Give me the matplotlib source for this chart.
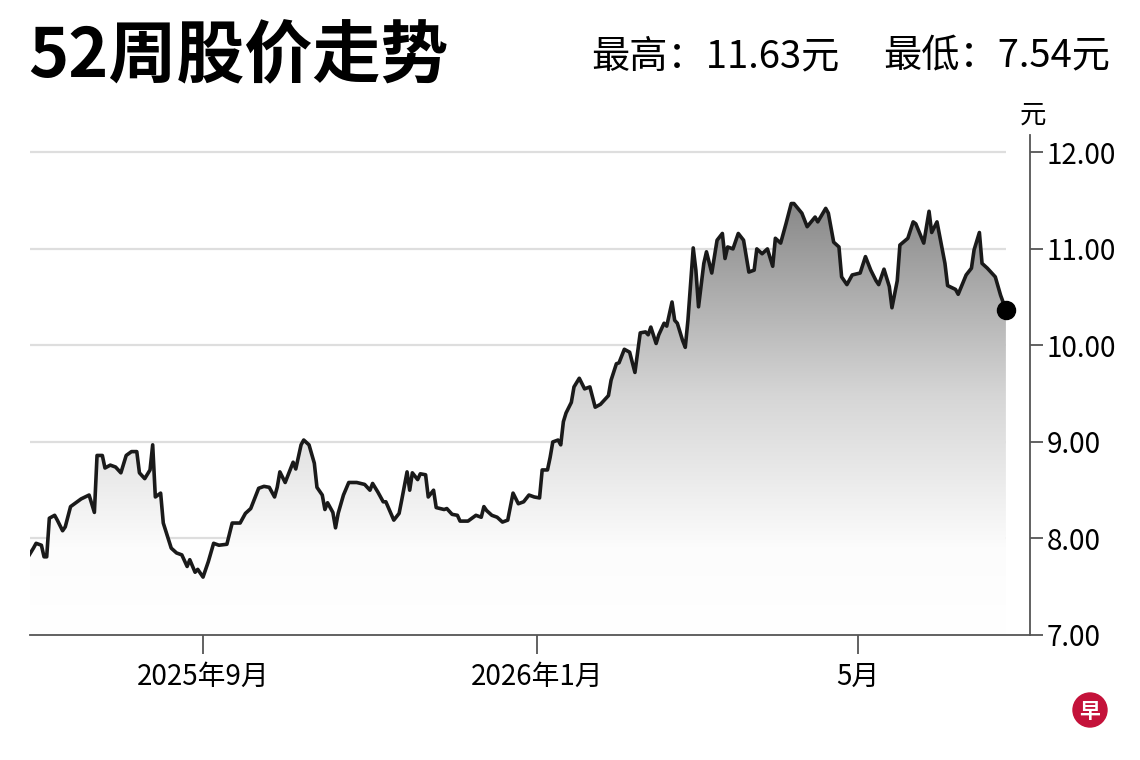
import numpy as np
import matplotlib
matplotlib.use("Agg")
import matplotlib.pyplot as plt
import matplotlib.dates as mdates
from matplotlib.colors import LinearSegmentedColormap
from matplotlib.patches import Ellipse

plt.rcParams['font.family'] = ['Noto Sans CJK SC', 'DejaVu Sans']

# data: days counted from 2025-09-01, closing price (元)
start = np.datetime64('2025-09-01')
days = [-66, -64, -63, -61, -60, -59, -58, -56, -55, -53, -52, -50, -48, -46, -43, -41,
        -40, -38, -37, -35, -33, -31, -29, -27, -25, -24, -22, -20, -19, -18, -16, -15,
        -12, -10, -8, -6, -5, -3, -2, 0, 2, 4, 6, 9, 11, 14, 16, 18,
        21, 23, 25, 27, 28, 29, 31, 34, 35, 37, 38, 40, 42, 43, 45, 46,
        47, 49, 50, 51, 53, 55, 58, 61, 63, 64, 66, 68, 69, 72, 74, 75,
        77, 78, 79, 81, 82, 84, 85, 87, 88, 91, 92, 94, 96, 97, 100, 101,
        103, 105, 106, 107, 109, 111, 113, 115, 116, 117, 119, 121, 123, 125, 127, 128,
        130, 131, 132, 134, 135, 136, 137, 139, 140, 142, 144, 146, 148, 150, 153, 154,
        156, 157, 159, 161, 163, 165, 167, 168, 169, 171, 172, 174, 175, 177, 178, 179,
        181, 182, 183, 185, 186, 187, 189, 190, 192, 194, 196, 197, 198, 200, 202, 204,
        206, 208, 209, 211, 213, 215, 216, 218, 220, 222, 223, 226, 228, 231, 232, 235,
        236, 238, 240, 241, 243, 245, 248, 250, 252, 254, 255, 257, 259, 260, 262, 263,
        266, 268, 269, 272, 274, 275, 277, 279, 280, 281, 284, 285, 288, 290, 291, 293,
        294, 296, 299, 301, 303]
price = [7.81, 7.90, 7.95, 7.93, 7.81, 7.81, 8.21, 8.24, 8.19, 8.08, 8.12, 8.33, 8.37, 8.41, 8.45, 8.27,
         8.86, 8.86, 8.73, 8.76, 8.74, 8.68, 8.86, 8.90, 8.90, 8.68, 8.62, 8.71, 8.97, 8.43, 8.47, 8.16,
         7.90, 7.85, 7.83, 7.71, 7.78, 7.65, 7.68, 7.60, 7.76, 7.95, 7.93, 7.94, 8.16, 8.16, 8.26, 8.31,
         8.52, 8.54, 8.53, 8.43, 8.53, 8.69, 8.58, 8.79, 8.72, 8.97, 9.02, 8.97, 8.78, 8.53, 8.45, 8.30,
         8.37, 8.27, 8.11, 8.26, 8.45, 8.58, 8.58, 8.56, 8.50, 8.57, 8.48, 8.38, 8.38, 8.19, 8.26, 8.40,
         8.69, 8.50, 8.68, 8.61, 8.67, 8.66, 8.43, 8.50, 8.32, 8.30, 8.31, 8.25, 8.24, 8.18, 8.18, 8.20,
         8.24, 8.22, 8.33, 8.29, 8.24, 8.22, 8.17, 8.19, 8.33, 8.47, 8.36, 8.38, 8.45, 8.43, 8.42, 8.71,
         8.71, 8.84, 9.00, 9.02, 8.97, 9.21, 9.30, 9.41, 9.57, 9.66, 9.55, 9.57, 9.36, 9.39, 9.48, 9.64,
         9.81, 9.82, 9.96, 9.93, 9.72, 10.13, 10.14, 10.11, 10.19, 10.02, 10.11, 10.23, 10.20, 10.45, 10.26, 10.23,
         10.05, 9.98, 10.26, 11.01, 10.78, 10.40, 10.85, 10.97, 10.75, 11.09, 11.16, 10.90, 11.02, 11.00, 11.16, 11.09,
         10.76, 10.78, 11.00, 10.95, 11.00, 10.82, 11.11, 11.06, 11.26, 11.47, 11.47, 11.37, 11.23, 11.33, 11.28, 11.42,
         11.37, 11.07, 11.02, 10.71, 10.63, 10.73, 10.75, 10.92, 10.78, 10.67, 10.63, 10.79, 10.61, 10.39, 10.67, 11.04,
         11.11, 11.28, 11.26, 11.06, 11.39, 11.17, 11.28, 10.99, 10.85, 10.62, 10.58, 10.53, 10.73, 10.80, 10.99, 11.17,
         10.85, 10.80, 10.71, 10.52, 10.37]

tick_dates = ['2025-09-01', '2026-01-05', '2026-05-06']
tick_labels = ['2025年9月', '2026年1月', '5月']
y_ticks = [7, 8, 9, 10, 11, 12]
high = 11.63
low = 7.54

dates = start + np.array(days).astype('timedelta64[D]')
x = mdates.date2num(dates)
x0 = mdates.date2num(start)
xmin, xmax = x0 - 65.3, x0 + 312.1

fig = plt.figure(figsize=(11.4, 7.6), dpi=100)
ax = fig.add_axes([30/1140, 125/760, 1000/1140, 500/760])

# gradient fill under the line
fill = ax.fill_between(x, price, 7, facecolor='none', edgecolor='none')
cmap = LinearSegmentedColormap.from_list('g', [(0, '#ffffff'), (0.2, '#fcfcfc'), (0.55, '#d6d6d6'), (1, '#888888')])
grad = np.linspace(0, 1, 256).reshape(-1, 1)
im = ax.imshow(grad, extent=[xmin, xmax, 7, 11.5], origin='lower', cmap=cmap,
               aspect='auto', vmin=0, vmax=1, zorder=1)
im.set_clip_path(fill.get_paths()[0], transform=ax.transData)

ax.hlines(y_ticks[1:], xmin, x[-1], colors='#dedede', lw=1.6, zorder=0)
ax.plot(x, price, color='#1a1a1a', lw=2.6, zorder=3, solid_joinstyle='round')
ax.plot(x[-1], price[-1], 'o', color='black', markersize=13, zorder=4)

ax.set_xlim(xmin, xmax)
ax.set_ylim(7, 12.18)

for s in ['left', 'top']:
    ax.spines[s].set_visible(False)
for s in ['right', 'bottom']:
    ax.spines[s].set_color('#555555')
    ax.spines[s].set_linewidth(1.3)

ax.yaxis.tick_right()
ax.set_yticks(y_ticks)
ax.set_yticklabels([f'{v:.2f}' for v in y_ticks])
ax.tick_params(axis='y', length=9, width=1.3, color='#555555', labelsize=20, pad=3)
ax.set_xticks(mdates.date2num(np.array(tick_dates, dtype='datetime64[D]')))
ax.set_xticklabels(tick_labels)
ax.tick_params(axis='x', length=14, width=1.3, color='#555555', labelsize=20, pad=5)

fig.text(28/1140, 1 - 58/760, '52周股价走势', fontsize=49, fontweight='black', ha='left', va='center')
fig.text(840/1140, 1 - 57/760, f'最高：{high:.2f}元', fontsize=27.5, ha='right', va='center')
fig.text(1110/1140, 1 - 57/760, f'最低：{low:.2f}元', fontsize=27.5, ha='right', va='center')
fig.text(1033/1140, 1 - 115/760, '元', fontsize=19, ha='center', va='center')

# logo
fig.add_artist(Ellipse((1090/1140, 1 - 710/760), 34/1140, 34/760, transform=fig.transFigure,
                       color='#c4123a'))
fig.text(1090/1140, 1 - 711/760, '早', color='white', fontsize=15, fontweight='bold',
         ha='center', va='center')

fig.savefig('out.png', dpi=100)
